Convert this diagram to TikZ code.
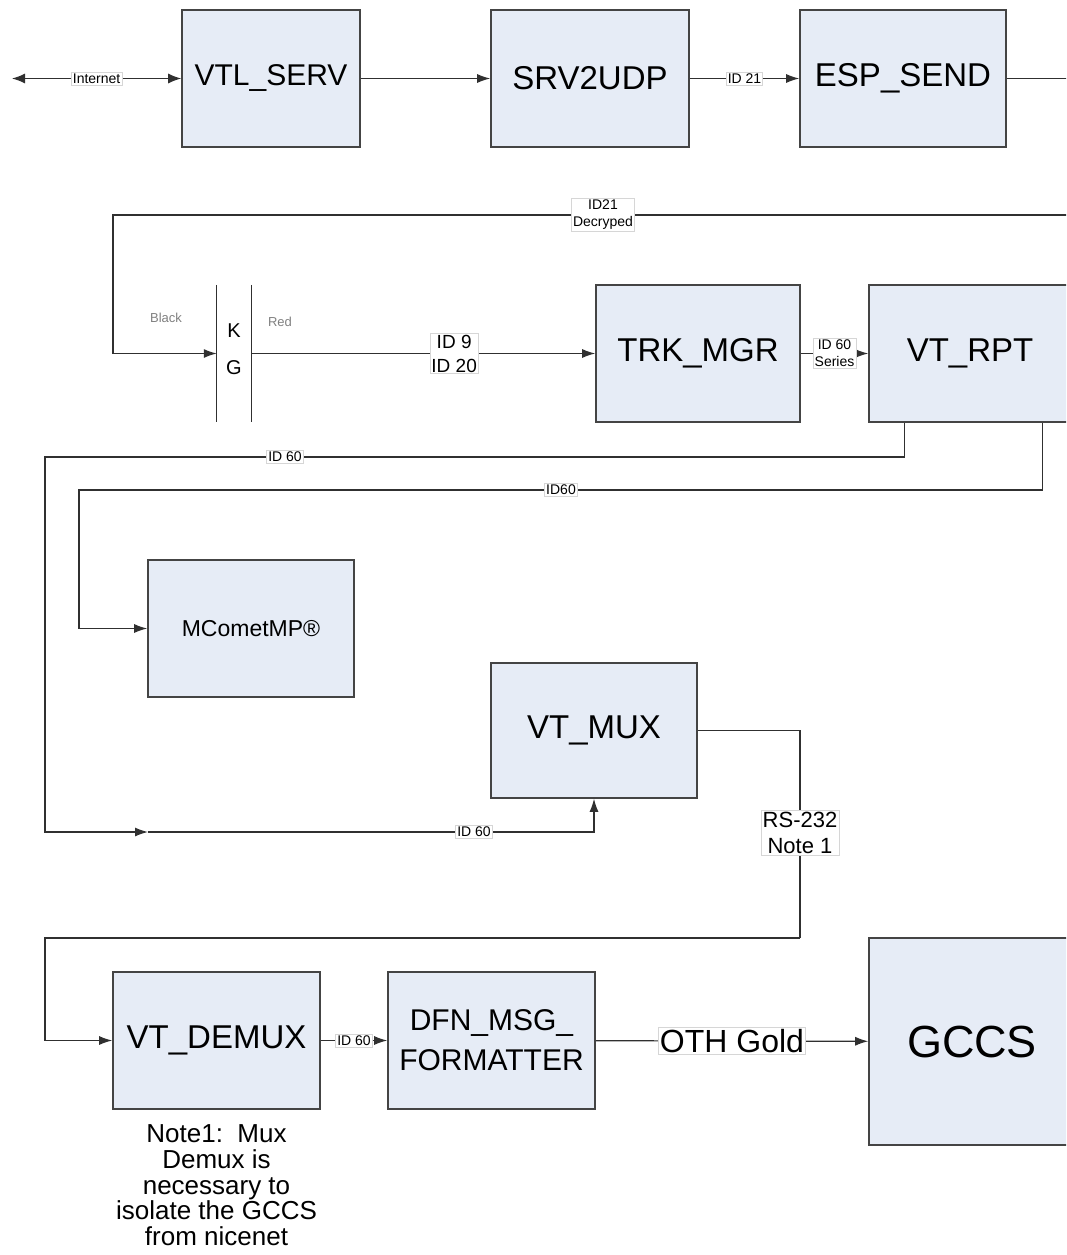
\documentclass[tikz,border=0pt]{standalone}
\usepackage{fontspec}
\setmainfont{Liberation Sans}
\usepackage{xcolor}
\usepackage{tikz}
\usetikzlibrary{positioning,calc,arrows.meta}

\definecolor{boxfill}{HTML}{E6ECF6}
\definecolor{boxline}{HTML}{444444}
\definecolor{linecol}{HTML}{303030}
\definecolor{tagline}{HTML}{D6D6D6}

\newcommand{\fs}[2]{\fontsize{#1}{#2}\selectfont}

\begin{document}
\begin{tikzpicture}[x=1pt, y=-1pt,
  block/.style={draw=boxline, line width=1.6pt, fill=boxfill, minimum height=137pt, align=center, font=\fs{33}{36}},
  link/.style={draw=linecol, line width=1.2pt},
  tip/.style={-{Latex[length=13pt,width=9pt]}},
  tag/.style={fill=white, draw=tagline, line width=0.6pt, inner sep=1.5pt, align=center, font=\fs{14}{17}}]
  \clip (0,0) rectangle (1066,1255);

  % Top row
  \node[block, minimum width=178pt, font=\fs{30}{34}] (vtl) at (271,78.5) {VTL\_SERV};
  \node[block, minimum width=198pt] (srv) at (590,78.5) {SRV2UDP};
  \node[block, minimum width=206pt] (esp) at (903,78.5) {ESP\_SEND};
  \coordinate (inet) at (12,78.5);
  \coordinate (espout) at (1080,78.5);

  \draw[link, {Latex[length=13pt,width=10pt]}-{Latex[length=13pt,width=10pt]}] (inet) -- node[tag] {Internet} (vtl);
  \draw[link, tip] (vtl) -- (srv);
  \draw[link, tip] (srv) -- node[tag] {ID 21} (esp);
  \draw[link] (esp) -- (espout);

  % KG and second row
  \node[minimum width=34pt, minimum height=137pt] (kg) at (234,353.5) {};
  \draw[linecol, line width=1.2pt] (kg.north west) -- (kg.south west);
  \draw[linecol, line width=1.2pt] (kg.north east) -- (kg.south east);
  \node[align=center, font=\fs{20}{37}] (kgtext) at ($(kg)+(0,-4)$) {K\\G};
  \node[gray, font=\fs{13}{15}] (black) at (166,318) {Black};
  \node[gray, font=\fs{13}{15}] (red) at (280,322) {Red};

  \node[block, minimum width=204pt] (trk) at (698,353.5) {TRK\_MGR};
  \node[block, minimum width=202pt] (rpt) at (970,353.5) {VT\_RPT};

  \coordinate (decin) at (1080,215);
  \coordinate (decturn) at (113,215);
  \draw[link, tip] (decin) -- (decturn) |- (kg);
  \node[tag] (dec) at (603,215) {ID21\\Decryped};

  \draw[link, tip] (kg) -- node[tag, pos=0.59, font=\fs{19}{24}] {ID 9\\ID 20} (trk);
  \draw[link, tip] (trk) -- node[tag] {ID 60\\Series} (rpt);

  % Middle
  \node[block, minimum width=206pt, font=\fs{23}{26}] (mcomet) at (251,628.5) {MCometMP®};
  \node[block, minimum width=206pt, minimum height=135pt] (mux) at (594,730.5) {VT\_MUX};

  \coordinate (rptA) at ($(rpt.south west)+(36,0)$);
  \coordinate (rptB) at ($(rpt.south west)+(174,0)$);
  \coordinate (turnA) at (45,457);
  \coordinate (midA) at (148,832);
  \coordinate (turnB) at (79,490);

  \draw[link, tip] (rptA) |- (turnA) |- (midA);
  \draw[link, tip] (midA) -| (mux);
  \node[tag] (idA) at (285,457) {ID 60};
  \node[tag] (idC) at (474,832) {ID 60};

  \draw[link, tip] (rptB) |- (turnB) |- (mcomet);
  \node[tag] (idB) at (561,490) {ID60};

  % Bottom row
  \node[block, minimum width=207pt] (demux) at (216.5,1040.5) {VT\_DEMUX};
  \node[block, minimum width=207pt, font=\fs{30}{40}] (dfn) at (491.5,1040.5) {DFN\_MSG\_\\FORMATTER};
  \node[block, minimum width=206pt, minimum height=207pt, font=\fs{45}{50}] (gccs) at (972,1041.5) {GCCS};

  \coordinate (rsturn) at (800,938);
  \coordinate (dmturn) at (45,938);
  \draw[link] (mux) -| (rsturn);
  \draw[link, tip] (rsturn) -- (dmturn) |- (demux);
  \node[tag, font=\fs{22}{26}] (rs) at (800,833) {RS-232\\Note 1};

  \draw[link, tip] (demux) -- node[tag] {ID 60} (dfn);
  \draw[link, tip] (dfn) -- node[tag, font=\fs{32}{36}] {OTH Gold} (gccs);

  \node[anchor=north, align=center, font=\fs{26}{25.8}] (note) at (216.5,1121) {Note1:~~Mux\\Demux is\\necessary to\\isolate the GCCS\\from nicenet};
\end{tikzpicture}
\end{document}
